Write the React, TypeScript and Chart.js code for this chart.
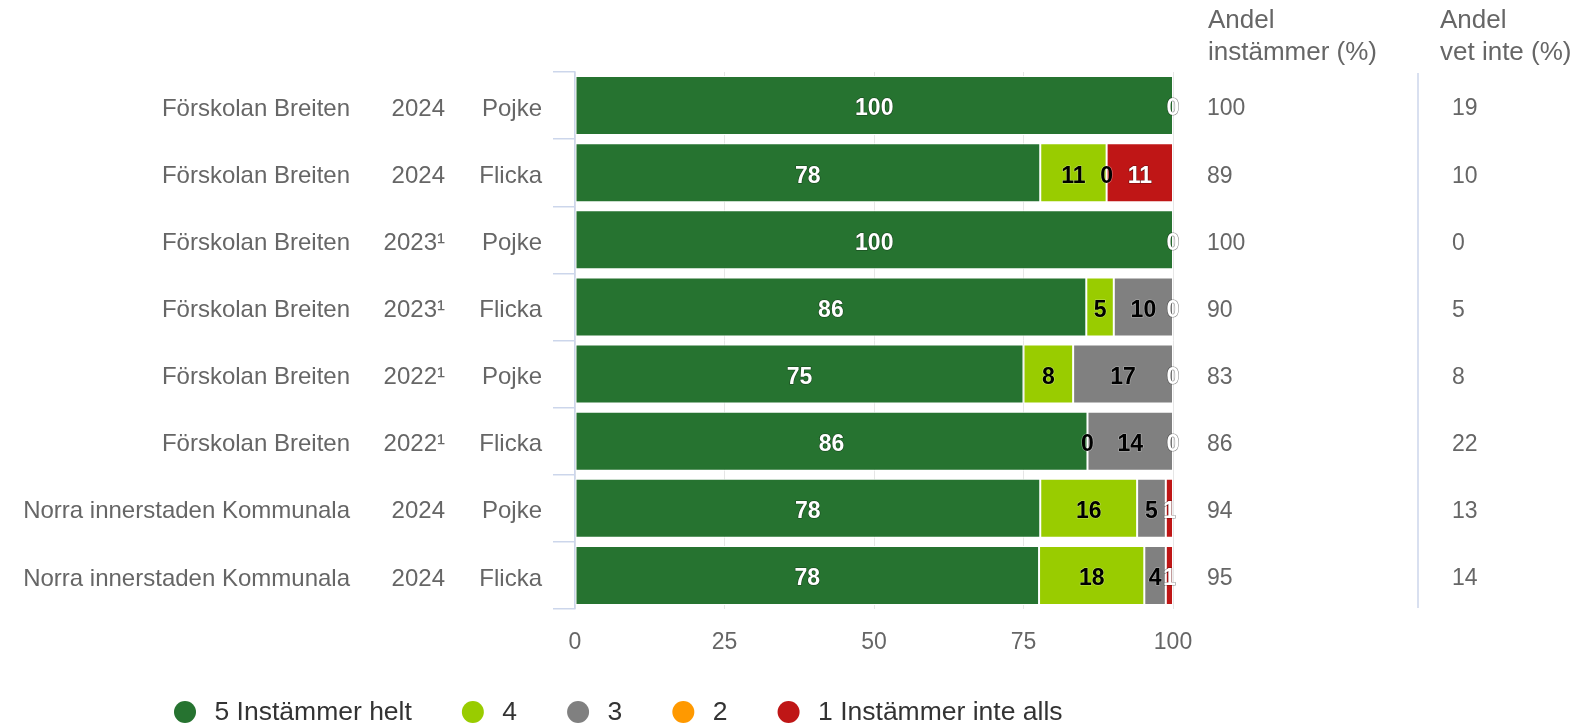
import React, { useEffect, useRef } from 'react';
import { Chart, registerables } from 'chart.js';

Chart.register(...registerables);

const schools = [
  'Förskolan Breiten',
  'Förskolan Breiten',
  'Förskolan Breiten',
  'Förskolan Breiten',
  'Förskolan Breiten',
  'Förskolan Breiten',
  'Norra innerstaden Kommunala',
  'Norra innerstaden Kommunala',
];
const years = ['2024', '2024', '2023¹', '2023¹', '2022¹', '2022¹', '2024', '2024'];
const genders = ['Pojke', 'Flicka', 'Pojke', 'Flicka', 'Pojke', 'Flicka', 'Pojke', 'Flicka'];

const seriesNames = ['5 Instämmer helt', '4', '3', '2', '1 Instämmer inte alls'];
const seriesColors = ['#267330', '#99cc00', '#808080', '#ff9900', '#bf1616'];
const labelColors = ['#ffffff', '#000000', '#000000', '#000000', '#ffffff'];

const s5 = [100, 77.8, 100, 85.5, 75.0, 85.7, 77.8, 77.6];
const s4 = [0, 11.1, 0, 4.6, 8.3, 0, 16.2, 17.6];
const s3 = [0, 0, 0, 9.9, 16.7, 14.3, 4.8, 3.6];
const s2 = [0, 0, 0, 0, 0, 0, 0, 0];
const s1 = [0, 11.1, 0, 0, 0, 0, 1.2, 1.2];

const andelInstammer = [100, 89, 100, 90, 83, 86, 94, 95];
const andelVetInte = [19, 10, 0, 5, 8, 22, 13, 14];

const headerInstammer = ['Andel', 'instämmer (%)'];
const headerVetInte = ['Andel', 'vet inte (%)'];

const xTicks = [0, 25, 50, 75, 100];

const FONT = '"Liberation Sans", Arial, Helvetica, sans-serif';

const dataLabelPlugin = {
  id: 'dataLabels',
  afterDatasetsDraw(chart: any) {
    const ctx = chart.ctx;
    ctx.save();
    ctx.font = `bold 23px ${FONT}`;
    ctx.textAlign = 'center';
    ctx.textBaseline = 'middle';
    ctx.lineJoin = 'round';
    const n = chart.data.labels.length;
    for (let i = 0; i < n; i++) {
      const boxes: [number, number][] = [];
      for (let d = chart.data.datasets.length - 1; d >= 0; d--) {
        const meta = chart.getDatasetMeta(d);
        const el: any = meta.data[i];
        if (!el) continue;
        const v = chart.data.datasets[d].data[i] as number;
        const txt = String(Math.round(v));
        const p = el.getProps(['x', 'base', 'y'], true);
        const cx = (p.x + p.base) / 2;
        const w = ctx.measureText(txt).width;
        const l = cx - w / 2;
        const r = cx + w / 2;
        if (boxes.some(([a, b]) => l < b && r > a)) continue;
        boxes.push([l, r]);
        const y = p.y + 3.5;
        const col = labelColors[d];
        ctx.lineWidth = 1.2;
        ctx.strokeStyle = col === '#ffffff' ? 'rgba(0,0,0,0.45)' : 'rgba(255,255,255,0.35)';
        ctx.strokeText(txt, cx, y);
        ctx.fillStyle = col;
        ctx.fillText(txt, cx, y);
      }
    }
    ctx.restore();
  },
};

const extrasPlugin = {
  id: 'extras',
  afterDraw(chart: any) {
    const ctx = chart.ctx;
    const yScale = chart.scales.y;
    const area = chart.chartArea;
    ctx.save();

    // category labels (three columns)
    ctx.font = `24px ${FONT}`;
    ctx.fillStyle = '#666666';
    ctx.textBaseline = 'middle';
    ctx.textAlign = 'right';
    for (let i = 0; i < schools.length; i++) {
      const y = yScale.getPixelForValue(i) + 3.5;
      ctx.fillText(schools[i], 350, y);
      ctx.fillText(years[i], 445, y);
      ctx.fillText(genders[i], 542, y);
    }

    // right-hand columns
    ctx.textAlign = 'left';
    ctx.font = `23px ${FONT}`;
    for (let i = 0; i < andelInstammer.length; i++) {
      const y = yScale.getPixelForValue(i) + 3.5;
      ctx.fillText(String(andelInstammer[i]), 1207, y);
      ctx.fillText(String(andelVetInte[i]), 1452, y);
    }

    // headers
    ctx.font = `26px ${FONT}`;
    ctx.textBaseline = 'alphabetic';
    headerInstammer.forEach((t, k) => ctx.fillText(t, 1208, 28 + k * 32));
    headerVetInte.forEach((t, k) => ctx.fillText(t, 1440, 28 + k * 32));

    // separator
    ctx.strokeStyle = '#ccd6eb';
    ctx.lineWidth = 1.5;
    ctx.beginPath();
    ctx.moveTo(1418, area.top + 1);
    ctx.lineTo(1418, area.bottom - 1);
    ctx.stroke();

    // legend
    ctx.font = `26.5px ${FONT}`;
    ctx.textBaseline = 'middle';
    let x = 185;
    const ly = 712;
    seriesNames.forEach((name, k) => {
      ctx.fillStyle = seriesColors[k];
      ctx.beginPath();
      ctx.arc(x, ly, 11, 0, Math.PI * 2);
      ctx.fill();
      ctx.fillStyle = '#333333';
      const tx = x + 29.5;
      ctx.fillText(name, tx, ly + 1);
      x = tx + ctx.measureText(name).width + 61;
    });

    ctx.restore();
  },
};

export default function App() {
  const ref = useRef<HTMLCanvasElement | null>(null);

  useEffect(() => {
    if (!ref.current) return;
    const seriesData = [s5, s4, s3, s2, s1];
    const chart = new Chart(ref.current, {
      type: 'bar',
      data: {
        labels: genders,
        datasets: seriesNames.map((name, k) => ({
          label: name,
          data: seriesData[k],
          backgroundColor: seriesColors[k],
          borderColor: '#ffffff',
          borderWidth: 1,
          borderSkipped: false,
          categoryPercentage: 1,
          barPercentage: 0.88,
        })),
      },
      options: {
        indexAxis: 'y',
        responsive: true,
        maintainAspectRatio: false,
        animation: false,
        layout: { padding: { left: 553, right: 410, top: 72, bottom: 68 } },
        plugins: {
          legend: { display: false },
          tooltip: { enabled: false },
          title: { display: false },
        },
        scales: {
          x: {
            type: 'linear',
            stacked: true,
            min: 0,
            max: 100,
            afterBuildTicks: (scale: any) => {
              scale.ticks = xTicks.map((v) => ({ value: v }));
            },
            afterFit: (scale: any) => {
              scale.height = 50;
            },
            ticks: {
              color: '#666666',
              font: { family: FONT, size: 23 },
              padding: 20,
              maxRotation: 0,
            },
            grid: { color: '#e6e6e6', drawTicks: false, lineWidth: 1 },
            border: { display: false },
          },
          y: {
            type: 'category',
            stacked: true,
            afterFit: (scale: any) => {
              scale.width = 22;
            },
            ticks: { display: false },
            grid: {
              drawOnChartArea: false,
              drawTicks: true,
              tickLength: 22,
              color: '#ccd6eb',
              offset: true,
              lineWidth: 1.5,
            },
            border: { display: true, color: '#ccd6eb', width: 1.5 },
          },
        },
      },
      plugins: [dataLabelPlugin, extrasPlugin],
    });
    return () => chart.destroy();
  }, []);

  return (
    <div style={{ position: 'fixed', left: 0, top: 0, width: 1583, height: 727, background: '#ffffff' }}>
      <canvas ref={ref} />
    </div>
  );
}
